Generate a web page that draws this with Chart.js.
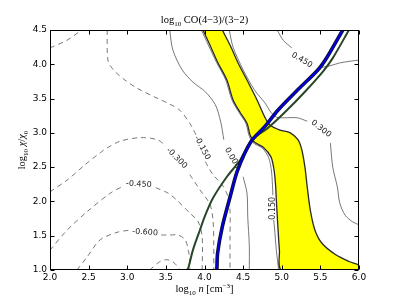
<!DOCTYPE html>
<html lang="en">
<head>
<meta charset="UTF-8" />
<title>log10 CO(4-3)/(3-2)</title>
<style>
  html, body { margin: 0; padding: 0; background: #fff; }
  .wrap { position: relative; width: 399px; height: 301px; }
</style>
</head>
<body>
<div class="wrap"><canvas id="chart" width="399" height="301"></canvas></div>
<script src="https://cdn.jsdelivr.net/npm/chart.js"></script>
<script>
const xTicks = [2.0, 2.5, 3.0, 3.5, 4.0, 4.5, 5.0, 5.5, 6.0];
const yTicks = [1.0, 1.5, 2.0, 2.5, 3.0, 3.5, 4.0, 4.5];

// observed band (yellow), left and right edges from top to bottom
const bandLeft = [[3.98,4.5],[4.07,4.28],[4.17,4.03],[4.29,3.77],[4.37,3.48],[4.46,3.30],[4.55,3.14],[4.59,2.97],[4.64,2.87],[4.76,2.79],[4.86,2.65],[4.90,2.46],[4.92,2.24],[4.93,2.02],[4.95,1.63],[4.97,1.29],[5.0,1.0]];
const bandRight = [[4.23,4.5],[4.33,4.28],[4.43,4.03],[4.55,3.77],[4.68,3.48],[4.78,3.23],[4.85,3.11],[4.98,3.04],[5.11,3.0],[5.21,2.90],[5.26,2.75],[5.30,2.50],[5.33,2.21],[5.37,1.87],[5.43,1.58],[5.52,1.39],[5.69,1.23],[5.88,1.12],[6.0,1.07]];

const blueLine = [[5.79,4.5],[5.59,4.11],[5.47,3.92],[5.20,3.62],[4.95,3.33],[4.78,3.09],[4.60,2.87],[4.43,2.46],[4.33,2.06],[4.23,1.63],[4.17,1.25],[4.16,1.0]];
const greenLine = [[5.87,4.5],[5.66,4.09],[5.53,3.89],[5.30,3.60],[5.04,3.30],[4.82,3.07],[4.62,2.90],[4.46,2.60],[4.29,2.36],[4.11,2.05],[4.01,1.80],[3.94,1.58],[3.85,1.29],[3.79,1.03],[3.77,1.0]];

// contour levels, each a list of segments (broken where the label sits)
const c450 = [[[4.94,4.5],[5.02,4.35],[5.13,4.24]], [[5.47,3.95],[5.60,3.97],[5.75,4.02],[5.92,4.05],[6.0,4.06]]];
const c300 = [[[4.32,4.5],[4.37,4.25],[4.50,3.92],[4.65,3.62],[4.78,3.44],[4.86,3.30],[4.93,3.23],[5.03,3.22],[5.20,3.22],[5.33,3.17]],
              [[5.63,2.85],[5.66,2.50],[5.72,2.21],[5.75,1.98],[5.82,1.80],[5.92,1.70],[6.0,1.66]]];
const c150 = [[[3.96,4.5],[4.05,4.28],[4.155,4.03],[4.275,3.77],[4.355,3.48],[4.445,3.30],[4.535,3.14],[4.575,2.97],[4.625,2.86],[4.75,2.775],[4.83,2.64],[4.865,2.46],[4.88,2.24],[4.885,2.09]],
              [[4.895,1.73],[4.905,1.63],[4.93,1.29],[4.96,1.0]]];
const c000 = [[[3.55,4.5],[3.59,4.21],[3.71,3.92],[3.85,3.74],[4.01,3.60],[4.14,3.41],[4.21,3.16],[4.25,2.90]],
              [[4.50,2.36],[4.55,2.12],[4.56,1.77],[4.58,1.36],[4.58,1.0]]];
const cm150 = [[[2.74,4.5],[2.75,4.06],[2.82,3.92],[2.97,3.77],[3.13,3.65],[3.36,3.52],[3.55,3.42],[3.68,3.33],[3.81,3.14],[3.89,2.97]],
               [[4.01,2.58],[4.11,2.39],[4.23,2.24],[4.30,2.08],[4.33,1.87],[4.33,1.44],[4.33,1.0]]];
const cm300 = [[[2.0,4.24],[2.22,4.35],[2.41,4.5]],
               [[2.0,2.14],[2.22,2.31],[2.48,2.56],[2.65,2.71],[2.74,2.78],[2.91,2.88],[3.17,2.93],[3.39,2.90],[3.50,2.81]],
               [[3.81,2.39],[3.94,2.17],[4.07,1.96],[4.11,1.73],[4.12,1.36],[4.12,1.0]]];
const cm450 = [[[2.0,1.29],[2.22,1.58],[2.48,1.85],[2.78,2.12],[2.96,2.23]],
               [[3.37,2.20],[3.53,2.12],[3.64,2.02],[3.81,1.83],[3.92,1.70],[3.97,1.48],[3.97,1.0]]];
const cm600 = [[[2.35,1.0],[2.48,1.19],[2.65,1.44],[2.87,1.55],[3.02,1.58]],
               [[3.44,1.51],[3.55,1.51],[3.66,1.51],[3.75,1.44],[3.79,1.29],[3.81,1.12],[3.81,1.0]]];
const cm750 = [[[3.29,1.0],[3.42,1.12],[3.51,1.15],[3.59,1.12],[3.66,1.04],[3.68,1.0]]];

const contourLabels = ["0.450", "0.300", "0.150", "0.000", "-0.150", "-0.300", "-0.450", "-0.600"];
const labelX = [5.26, 5.51, 4.89, 4.36, 3.97, 3.64, 3.15, 3.23];
const labelY = [4.06, 3.06, 1.90, 2.63, 2.78, 2.63, 2.25, 1.55];
const labelAngle = [30, 38, -90, 60, 62, 45, 3, 4];

const pts = seg => seg.map(([x, y]) => ({ x, y }));

function contourSets(segs, dashed) {
  return segs.map(s => ({
    data: pts(s),
    borderColor: "#555",
    borderWidth: 0.8,
    borderDash: dashed ? [5, 4] : [],
    order: 5,
  }));
}

const band = bandLeft.concat([[6.0, 1.0]], bandRight.slice().reverse());

const datasets = [
  { data: pts(blueLine), borderColor: "#0000dd", borderWidth: 2.2, order: 0 },
  { data: pts(blueLine), borderColor: "#111", borderWidth: 3.6, order: 1 },
  { data: pts(greenLine), borderColor: "#264626", borderWidth: 2, order: 2 },
  { data: pts(band), fill: "shape", backgroundColor: "#ffff00", borderColor: "#2a2a2a", borderWidth: 1.3, order: 3 },
  ...contourSets(c450, false),
  ...contourSets(c300, false),
  ...contourSets(c150, false),
  ...contourSets(c000, false),
  ...contourSets(cm150, true),
  ...contourSets(cm300, true),
  ...contourSets(cm450, true),
  ...contourSets(cm600, true),
  ...contourSets(cm750, true),
].map(d => Object.assign({ showLine: true, pointRadius: 0, tension: 0.3, fill: false }, d));

function drawParts(ctx, parts, x, y) {
  let total = 0;
  parts.forEach(p => {
    ctx.font = (p.italic ? "italic " : "") + p.size + "px 'Liberation Serif'";
    p.w = ctx.measureText(p.t).width;
    total += p.w;
  });
  let cx = x - total / 2;
  parts.forEach(p => {
    ctx.font = (p.italic ? "italic " : "") + p.size + "px 'Liberation Serif'";
    ctx.fillText(p.t, cx, y + (p.dy || 0));
    cx += p.w;
  });
}

const decorations = {
  id: "decorations",
  afterDatasetsDraw(chart) {
    const { ctx, chartArea: a, scales } = chart;
    ctx.save();
    // contour labels
    ctx.fillStyle = "#222";
    ctx.font = "8px 'DejaVu Sans'";
    ctx.textAlign = "center";
    ctx.textBaseline = "middle";
    contourLabels.forEach((t, i) => {
      ctx.save();
      ctx.translate(scales.x.getPixelForValue(labelX[i]), scales.y.getPixelForValue(labelY[i]));
      ctx.rotate(labelAngle[i] * Math.PI / 180);
      ctx.fillText(t, 0, 0);
      ctx.restore();
    });

    // frame and inward ticks
    ctx.strokeStyle = "#000";
    ctx.lineWidth = 1;
    const L = Math.round(a.left) + 0.5, R = Math.round(a.right) - 0.5;
    const T = Math.round(a.top) + 0.5, B = Math.round(a.bottom) - 0.5;
    ctx.strokeRect(L, T, R - L, B - T);
    ctx.beginPath();
    xTicks.forEach(v => {
      const px = Math.round(scales.x.getPixelForValue(v)) + 0.5;
      ctx.moveTo(px, B); ctx.lineTo(px, B - 4);
      ctx.moveTo(px, T); ctx.lineTo(px, T + 4);
    });
    yTicks.forEach(v => {
      const py = Math.round(scales.y.getPixelForValue(v)) + 0.5;
      ctx.moveTo(L, py); ctx.lineTo(L + 4, py);
      ctx.moveTo(R, py); ctx.lineTo(R - 4, py);
    });
    ctx.stroke();

    // title and axis titles
    ctx.fillStyle = "#000";
    ctx.textAlign = "left";
    ctx.textBaseline = "alphabetic";
    const cx = (a.left + a.right) / 2;
    drawParts(ctx, [
      { t: "log", size: 10.5 }, { t: "10", size: 7, dy: 2.5 },
      { t: " CO(4\u22123)/(3\u22122)", size: 10.5 },
    ], cx, 23);
    drawParts(ctx, [
      { t: "log", size: 10.5 }, { t: "10", size: 7, dy: 2.5 }, { t: " ", size: 10.5 },
      { t: "n", size: 10.5, italic: true }, { t: " [cm", size: 10.5 },
      { t: "\u22123", size: 7, dy: -4 }, { t: "]", size: 10.5 },
    ], cx, 292);
    ctx.translate(25, (a.top + a.bottom) / 2);
    ctx.rotate(-Math.PI / 2);
    drawParts(ctx, [
      { t: "log", size: 10.5 }, { t: "10", size: 7, dy: 2.5 }, { t: " ", size: 10.5 },
      { t: "\u03c7", size: 10.5, italic: true }, { t: "/", size: 10.5 },
      { t: "\u03c7", size: 10.5, italic: true }, { t: "0", size: 7, dy: 2.5 },
    ], 0, 0);
    ctx.restore();
  },
};

new Chart(document.getElementById("chart"), {
  type: "scatter",
  data: { datasets },
  plugins: [decorations],
  options: {
    responsive: false,
    animation: false,
    layout: { padding: { top: 30, right: 40, left: 0, bottom: 0 } },
    plugins: { legend: { display: false }, tooltip: { enabled: false } },
    elements: { point: { radius: 0 } },
    scales: {
      x: {
        type: "linear",
        min: 2,
        max: 6,
        afterBuildTicks: s => { s.ticks = xTicks.map(v => ({ value: v })); },
        afterFit: s => { s.height = 31; },
        grid: { display: false, drawTicks: false },
        border: { display: false },
        ticks: {
          autoSkip: false,
          maxRotation: 0,
          padding: 2,
          color: "#000",
          font: { family: "'DejaVu Sans'", size: 9 },
          callback: v => v.toFixed(1),
        },
      },
      y: {
        type: "linear",
        min: 1,
        max: 4.5,
        afterBuildTicks: s => { s.ticks = yTicks.map(v => ({ value: v })); },
        afterFit: s => { s.width = 50; },
        grid: { display: false, drawTicks: false },
        border: { display: false },
        ticks: {
          autoSkip: false,
          padding: 3,
          color: "#000",
          font: { family: "'DejaVu Sans'", size: 9 },
          callback: v => v.toFixed(1),
        },
      },
    },
  },
});
</script>
</body>
</html>
